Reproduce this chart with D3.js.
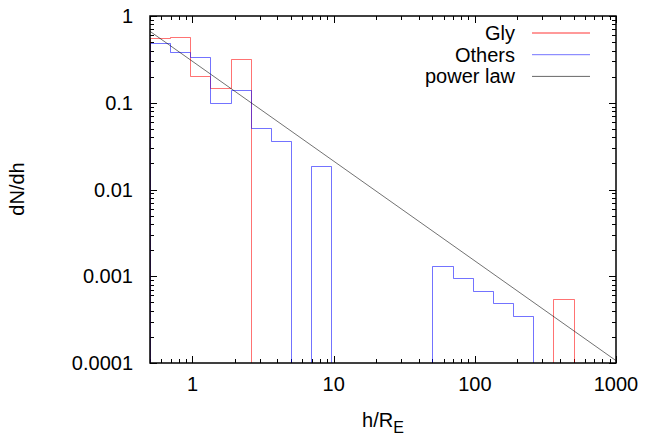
<!DOCTYPE html>
<html lang="en">
<head>
<meta charset="UTF-8">
<title>dN/dh histogram</title>
<script src="https://d3js.org/d3.v7.min.js"></script>
<style>
  body { margin: 0; background: #fff; }
  text { font-family: "Liberation Sans", Arial, sans-serif; fill: #000; }
</style>
</head>
<body>
<div id="chart"></div>
<script>
  // bin edges in h/R_E (21 log bins)
  const binEdges = [0.5, 0.695, 0.965, 1.34, 1.86, 2.59, 3.6, 5, 6.95, 9.65, 13.4,
                    18.6, 25.9, 36, 50, 69.5, 96.5, 134, 186, 259, 360, 500];
  const glyValues = [0.553, 0.568, 0.203, 0.147, 0.317, 0, 0, 0, 0, 0, 0,
                     0, 0, 0, 0, 0, 0, 0, 0, 0, 0.000542];
  const otherValues = [0.485, 0.382, 0.340, 0.0986, 0.140, 0.0507, 0.0362, 0, 0.0189, 0, 0,
                       0, 0, 0, 0.00132, 0.000946, 0.000676, 0.000488, 0.000348, 0, 0];
  const powerLaw = { amp: 0.3, exponent: -1.15 };
  const xTicks = [1, 10, 100, 1000];
  const yTicks = [0.0001, 0.001, 0.01, 0.1, 1];
  const yTickLabels = ["0.0001", "0.001", "0.01", "0.1", "1"];

  const W = 647, H = 435;
  const margin = { top: 16, right: 31, bottom: 72, left: 150 };
  const width = W - margin.left - margin.right;
  const height = H - margin.top - margin.bottom;
  const fs = "20px";

  const svg = d3.select("#chart").append("svg")
    .attr("width", W)
    .attr("height", H);

  const g = svg.append("g")
    .attr("transform", `translate(${margin.left},${margin.top})`);

  const x = d3.scaleLog().domain([0.5, 1000]).range([0, width]);
  const y = d3.scaleLog().domain([0.0001, 1]).range([height, 0]);
  const snap = v => Math.round(v) + 0.5;

  svg.append("defs").append("clipPath").attr("id", "clip")
    .append("rect").attr("width", width).attr("height", height);

  // minor ticks: 2..9 in every decade inside the domain
  const minorX = [];
  for (let d = 0.1; d < 1000; d *= 10) {
    for (let m = 1; m < 10; m++) {
      const v = +(d * m).toPrecision(3);
      if (v >= 0.5 && v <= 1000 && !xTicks.includes(v)) minorX.push(v);
    }
  }
  const minorY = [];
  for (let d = 0.0001; d < 1; d *= 10) {
    for (let m = 2; m < 10; m++) minorY.push(+(d * m).toPrecision(3));
  }

  const ticks = g.append("g").attr("stroke", "#000").attr("stroke-width", 1);
  function tickX(v, len) {
    const px = snap(x(v));
    ticks.append("line").attr("x1", px).attr("x2", px).attr("y1", height).attr("y2", height - len);
    ticks.append("line").attr("x1", px).attr("x2", px).attr("y1", 0).attr("y2", len);
  }
  function tickY(v, len) {
    const py = snap(y(v));
    ticks.append("line").attr("x1", 0).attr("x2", len).attr("y1", py).attr("y2", py);
    ticks.append("line").attr("x1", width).attr("x2", width - len).attr("y1", py).attr("y2", py);
  }
  minorX.forEach(v => tickX(v, 4));
  xTicks.forEach(v => tickX(v, 7));
  minorY.forEach(v => tickY(v, 4));
  yTicks.forEach(v => tickY(v, 7));

  // tick labels
  g.selectAll(".xl").data(xTicks).enter().append("text")
    .attr("x", d => x(d))
    .attr("y", height + 28)
    .attr("text-anchor", "middle")
    .style("font-size", fs)
    .text(d => d);

  g.selectAll(".yl").data(yTicks).enter().append("text")
    .attr("x", -17)
    .attr("y", d => y(d) + 7)
    .attr("text-anchor", "end")
    .style("font-size", fs)
    .text((d, i) => yTickLabels[i]);

  // histogram steps; empty bins fall below the axis and get clipped
  function stepPath(values) {
    const below = height + 10;
    const yp = v => v > 0 ? snap(y(v)) : below;
    const xp = i => snap(x(binEdges[i]));
    let p = `M${xp(0)},${below}`;
    values.forEach((v, i) => {
      p += `L${xp(i)},${yp(v)}L${xp(i + 1)},${yp(v)}`;
    });
    p += `L${xp(binEdges.length - 1)},${below}`;
    return p;
  }

  const plot = g.append("g").attr("clip-path", "url(#clip)");
  plot.append("path")
    .attr("d", stepPath(glyValues))
    .attr("fill", "none")
    .attr("stroke", "#ff0000")
    .attr("stroke-opacity", 0.55)
    .attr("stroke-width", 1);
  plot.append("path")
    .attr("d", stepPath(otherValues))
    .attr("fill", "none")
    .attr("stroke", "#0000ff")
    .attr("stroke-opacity", 0.55)
    .attr("stroke-width", 1);

  const lawX = x.domain();
  plot.append("line")
    .attr("x1", x(lawX[0])).attr("y1", y(powerLaw.amp * Math.pow(lawX[0], powerLaw.exponent)))
    .attr("x2", x(lawX[1])).attr("y2", y(powerLaw.amp * Math.pow(lawX[1], powerLaw.exponent)))
    .attr("stroke", "#000")
    .attr("stroke-opacity", 0.7)
    .attr("stroke-width", 0.8);

  // frame
  g.append("rect")
    .attr("width", width).attr("height", height)
    .attr("fill", "none").attr("stroke", "#000").attr("stroke-width", 1.5);

  // legend
  const legend = [
    { label: "Gly", color: "#ff0000", op: 0.4 },
    { label: "Others", color: "#0000ff", op: 0.55 },
    { label: "power law", color: "#000", op: 0.6 }
  ];
  const lg = g.selectAll(".leg").data(legend).enter().append("g")
    .attr("transform", (d, i) => `translate(0,${17 + i * 21.7})`);
  lg.append("text")
    .attr("x", 365).attr("y", 7)
    .attr("text-anchor", "end")
    .style("font-size", fs)
    .text(d => d.label);
  lg.append("line")
    .attr("x1", 382).attr("x2", 440)
    .attr("stroke", d => d.color)
    .attr("stroke-opacity", d => d.op)
    .attr("stroke-width", (d, i) => i === 0 ? 2 : 1);

  // axis titles
  svg.append("text")
    .attr("transform", "translate(24,189) rotate(-90)")
    .attr("text-anchor", "middle")
    .style("font-size", fs)
    .text("dN/dh");

  const xt = svg.append("text")
    .attr("x", 383).attr("y", 427)
    .attr("text-anchor", "middle")
    .style("font-size", fs);
  xt.append("tspan").text("h/R");
  xt.append("tspan").attr("dy", 6).style("font-size", "16px").text("E");
</script>
</body>
</html>
